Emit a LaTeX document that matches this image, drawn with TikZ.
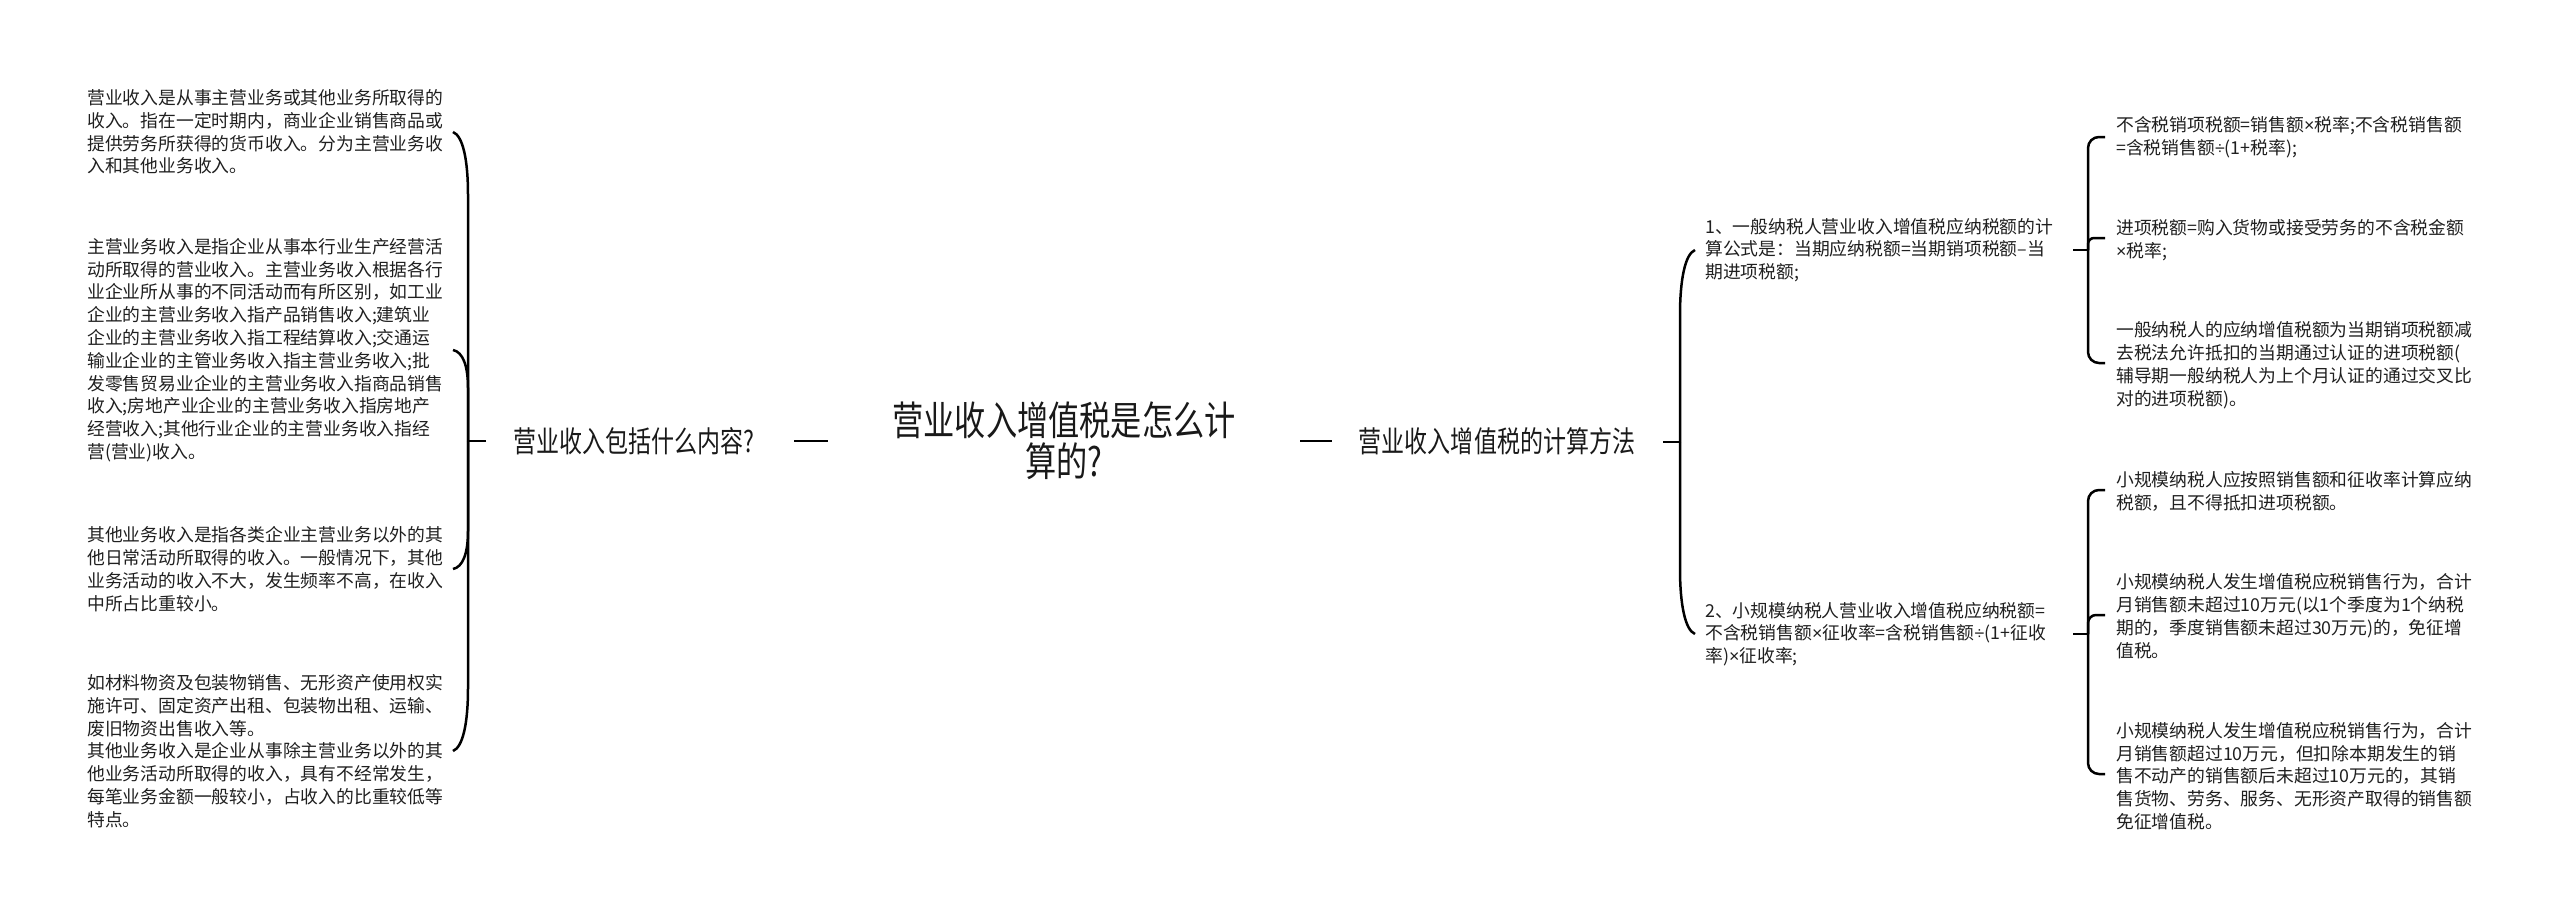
\documentclass[tikz,border=0pt]{standalone}
\usepackage{fontspec}
\setmainfont{Noto Sans CJK SC}
\newfontfamily\condfont[FakeStretch=0.78]{Noto Sans CJK SC}
\newfontfamily\latinfont{Liberation Sans}
\newcommand{\mul}{{\latinfont ×}}
\newcommand{\dvd}{{\latinfont ÷}}
\begin{document}
\begin{tikzpicture}[x=1pt,y=-1pt,
  conn/.style={line width=2.5pt,black,line cap=butt},
  brk/.style={line width=2.5pt,black,rounded corners=11pt},
  leaf/.style={anchor=west,align=left,inner sep=0pt,text=black!88,
     font=\fontsize{17.8}{22.8}\selectfont},
  mid/.style={inner sep=0pt,text=black!90,font=\condfont\fontsize{29.5}{34}\selectfont},
  titlenode/.style={inner sep=0pt,align=center,text=black!90,font=\condfont\fontsize{40}{41}\selectfont}]
\useasboundingbox (0,0) rectangle (2560,919);

% main nodes
\node[titlenode] (root) at (1064,441) {营业收入增值税是怎么计\\算的?};
\node[mid] (lmid) at (634,441) {营业收入包括什么内容?};
\node[mid] (rmid) at (1497,441) {营业收入增值税的计算方法};

\coordinate (rootL) at (828,441);
\coordinate (lmidR) at (794,441);
\coordinate (rootR) at (1300,441);
\coordinate (rmidL) at (1332,441);
\draw[conn] (lmidR) -- (rootL);
\draw[conn] (rootR) -- (rmidL);

% left leaves
\node[leaf] (l1) at (87,132) {营业收入是从事主营业务或其他业务所取得的\\收入。指在一定时期内，商业企业销售商品或\\提供劳务所获得的货币收入。分为主营业务收\\入和其他业务收入。};
\node[leaf] (l2) at (87,350) {主营业务收入是指企业从事本行业生产经营活\\动所取得的营业收入。主营业务收入根据各行\\业企业所从事的不同活动而有所区别，如工业\\企业的主营业务收入指产品销售收入;建筑业\\企业的主营业务收入指工程结算收入;交通运\\输业企业的主管业务收入指主营业务收入;批\\发零售贸易业企业的主营业务收入指商品销售\\收入;房地产业企业的主营业务收入指房地产\\经营收入;其他行业企业的主营业务收入指经\\营(营业)收入。};
\node[leaf] (l3) at (87,569) {其他业务收入是指各类企业主营业务以外的其\\他日常活动所取得的收入。一般情况下，其他\\业务活动的收入不大，发生频率不高，在收入\\中所占比重较小。};
\node[leaf] (l4) at (87,751) {如材料物资及包装物销售、无形资产使用权实\\施许可、固定资产出租、包装物出租、运输、\\废旧物资出售收入等。\\其他业务收入是企业从事除主营业务以外的其\\他业务活动所取得的收入，具有不经常发生，\\每笔业务金额一般较小，占收入的比重较低等\\特点。};

% left bracket
\coordinate (LJ) at (468,441);
\coordinate (Lstub) at (486,441);
\coordinate (e1) at (453,132);
\coordinate (e2) at (453,350);
\coordinate (e3) at (453,569);
\coordinate (e4) at (453,751);
\draw[conn] (Lstub) -- (LJ);
\draw[conn] (LJ) -- (468,195) .. controls (468,160) and (463,136) .. (e1);
\draw[conn] (LJ) -- (468,388) .. controls (468,366) and (463,352) .. (e2);
\draw[conn] (LJ) -- (468,531) .. controls (468,553) and (463,567) .. (e3);
\draw[conn] (LJ) -- (468,688) .. controls (468,723) and (463,747) .. (e4);

% right items
\node[leaf] (r1) at (1705,250) {1、一般纳税人营业收入增值税应纳税额的计\\算公式是：当期应纳税额=当期销项税额–当\\期进项税额;};
\node[leaf] (r2) at (1705,634) {2、小规模纳税人营业收入增值税应纳税额=\\不含税销售额\mul 征收率=含税销售额\dvd(1+征收\\率)\mul 征收率;};

\coordinate (RJ) at (1680,442);
\coordinate (Rstub) at (1663,442);
\coordinate (f1) at (1695,250);
\coordinate (f2) at (1695,634);
\draw[conn] (Rstub) -- (RJ);
\draw[conn] (RJ) -- (1680,315) .. controls (1680,280) and (1685,254) .. (f1);
\draw[conn] (RJ) -- (1680,569) .. controls (1680,604) and (1685,630) .. (f2);

% right leaves group 1
\node[leaf] (a1) at (2116,137) {不含税销项税额=销售额\mul 税率;不含税销售额\\=含税销售额\dvd(1+税率);};
\node[leaf] (a2) at (2116,240) {进项税额=购入货物或接受劳务的不含税金额\\\mul 税率;};
\node[leaf] (a3) at (2116,365) {一般纳税人的应纳增值税额为当期销项税额减\\去税法允许抵扣的当期通过认证的进项税额(\\辅导期一般纳税人为上个月认证的通过交叉比\\对的进项税额)。};

\coordinate (AJ) at (2088,250);
\coordinate (Astub) at (2073,250);
\draw[conn] (Astub) -- (AJ);
\draw[brk] (AJ) -- (2088,137) -- (2105,137);
\draw[brk,rounded corners=6pt] (AJ) -- (2088,238) -- (2105,238);
\draw[brk] (AJ) -- (2088,363) -- (2105,363);

% right leaves group 2
\node[leaf] (b1) at (2116,491) {小规模纳税人应按照销售额和征收率计算应纳\\税额，且不得抵扣进项税额。};
\node[leaf] (b2) at (2116,616) {小规模纳税人发生增值税应税销售行为，合计\\月销售额未超过10万元(以1个季度为1个纳税\\期的，季度销售额未超过30万元)的，免征增\\值税。};
\node[leaf] (b3) at (2116,776) {小规模纳税人发生增值税应税销售行为，合计\\月销售额超过10万元，但扣除本期发生的销\\售不动产的销售额后未超过10万元的，其销\\售货物、劳务、服务、无形资产取得的销售额\\免征增值税。};

\coordinate (BJ) at (2088,634);
\coordinate (Bstub) at (2073,634);
\draw[conn] (Bstub) -- (BJ);
\draw[brk] (BJ) -- (2088,490) -- (2105,490);
\draw[brk,rounded corners=8pt] (BJ) -- (2088,615) -- (2105,615);
\draw[brk] (BJ) -- (2088,774) -- (2105,774);
\end{tikzpicture}
\end{document}
